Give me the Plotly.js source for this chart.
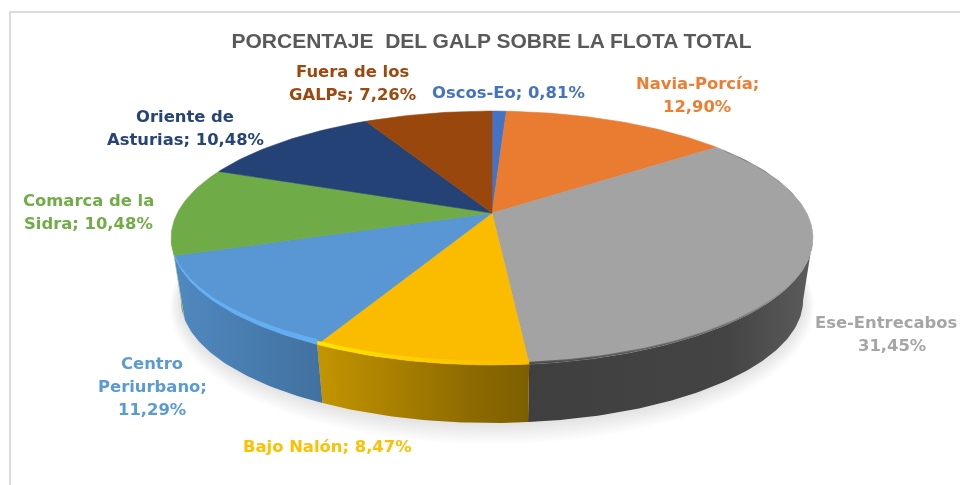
<!DOCTYPE html>
<html>
<head>
<meta charset="utf-8">
<script src="https://cdn.plot.ly/plotly-3.0.1.min.js"></script>
<style>html,body{margin:0;padding:0;background:#fff;overflow:hidden}#chart{width:960px;height:485px;filter:blur(0.35px)}</style>
</head>
<body>
<div id="chart"></div>
<script>
// Data as printed on the chart's labels (they add up to 93.14; slices are each value's share of that sum).
const categories = ["Oscos-Eo","Navia-Porcía","Ese-Entrecabos","Bajo Nalón","Centro Periurbano","Comarca de la Sidra","Oriente de Asturias","Fuera de los GALPs"];
const values = [0.81,12.90,31.45,8.47,11.29,10.48,10.48,7.26];
const sliceColors = ["#4472c4","#e97c30","#a3a3a3","#fbbc00","#5896d4","#6fab46","#244275","#9a470d"];
const labelColors = ["#4472c4","#ed7d31","#a5a5a5","#ffc000","#5b9bd5","#70ad47","#264478","#9e480e"];
const titleText = "PORCENTAJE\u00a0 DEL GALP SOBRE LA FLOTA TOTAL";
const labelLines = [
  ["Oscos-Eo; 0,81%"],
  ["Navia-Porcía;","12,90%"],
  ["Ese-Entrecabos","31,45%"],
  ["Bajo Nalón; 8,47%"],
  ["Centro","Periurbano;","11,29%"],
  ["Comarca de la","Sidra; 10,48%"],
  ["Oriente de","Asturias; 10,48%"],
  ["Fuera de los","GALPs; 7,26%"]
];

// Label placement (pixel axes): x of the line, y of the first line
const labelPos = [[508,92],[697,83],[892,322],[327,446],[152,363],[88,200],[185,116],[352,71]];
const linePitch = 23;

// Perspective projection of the pie's top and bottom discs onto the page
const topDisc = {x0:492,y0:213,a:122,b:314.6,k:0.197};
const botDisc = {x0:492,y0:276,a:118,b:305,k:0.197};
const rad = d => d*Math.PI/180;
function project(d,deg){
  const u=Math.sin(rad(deg)), v=Math.cos(rad(deg)), w=1+d.k*v;
  return [d.x0+d.b*u/w, d.y0-d.a*v/w];
}
function arc(d,from,to){
  const pts=[], n=Math.max(2,Math.ceil(Math.abs(to-from)));
  for(let i=0;i<=n;i++) pts.push(project(d,from+(to-from)*i/n));
  return pts;
}
const total = values.reduce((a,b)=>a+b,0);
const edges = [0];
values.forEach(v=>edges.push(edges[edges.length-1]+v/total*360));

const traces = [];
function poly(pts,fill,extra){
  traces.push(Object.assign({type:"scatter",mode:"lines",x:pts.map(p=>p[0]),y:pts.map(p=>p[1]),
    fill:"toself",fillcolor:fill,line:{width:0,color:fill},hoverinfo:"skip",showlegend:false},extra||{}));
}
function grad(stops,start,stop){
  return {fillgradient:{type:"horizontal",colorscale:stops,start:start,stop:stop}};
}

// soft shadow under the pie
for(let s=14;s>=1;s--){
  const d={x0:botDisc.x0,y0:botDisc.y0+s*0.3,a:botDisc.a+s,b:botDisc.b+s*0.8,k:botDisc.k};
  poly(arc(d,0,360),"rgba(0,0,0,0.009)");
}

// side wall, only the front part of the rim is visible
const wallFrom=101.4, wallTo=258.6;
const wallStyles = {
  2:[[0,"#3f3f3f"],[0.7,"#444444"],[1,"#5c5c5c"]],
  3:[[0,"#c49500"],[0.7,"#8f6c00"],[1,"#7d5f00"]],
  4:[[0,"#5089c0"],[1,"#41719f"]],
  5:[[0,"#5f9238"],[1,"#5f9238"]]
};
Object.keys(wallStyles).forEach(k=>{
  const i=+k, a=Math.max(edges[i],wallFrom), b=Math.min(edges[i+1],wallTo);
  const t=arc(topDisc,a,b), l=arc(botDisc,b,a), pts=t.concat(l);
  pts.push(t[0]);
  const xs=pts.map(p=>p[0]);
  poly(pts,sliceColors[i],grad(wallStyles[k],Math.min(...xs),Math.max(...xs)));
});

// top face: one wedge per value
values.forEach((v,i)=>{
  const pts=[[topDisc.x0,topDisc.y0]].concat(arc(topDisc,edges[i],edges[i+1]));
  pts.push([topDisc.x0,topDisc.y0]);
  poly(pts,sliceColors[i],{line:{width:0.6,color:sliceColors[i]},hoverinfo:"text",
    text:categories[i]+": "+v.toFixed(2).replace(".",",")+"%",hoveron:"fills",name:categories[i]});
});

// bevel along the rim: a strip that tapers towards the sides of the disc
function rim(i,from,to,squash,stops){
  const inner=Object.assign({},topDisc,{a:topDisc.a*squash});
  const a=arc(topDisc,from,to), b=arc(inner,to,from), pts=a.concat(b);
  pts.push(a[0]);
  const xs=pts.map(p=>p[0]);
  poly(pts,sliceColors[i],grad(stops,Math.min(...xs),Math.max(...xs)));
}
rim(2,55,edges[3],0.985,[[0,"#5a5a5a"],[0.6,"#808080"],[1,"#a0a0a0"]]);
rim(2,55,edges[3],0.993,[[0,"#444444"],[0.7,"#666666"],[1,"#a0a0a0"]]);
rim(3,edges[3],edges[4],0.972,[[0,"#ffe600"],[0.6,"#fdc800"],[1,"#fbbc00"]]);
rim(4,edges[4],edges[5],0.96,[[0,"#66b2f7"],[1,"#62acf0"]]);
rim(5,edges[5],edges[6]-8,0.98,[[0,"#80c64e"],[1,"#74b34a"]]);

// data labels, one annotation per printed line
const annotations=[];
labelLines.forEach((lines,i)=>{
  lines.forEach((txt,j)=>{
    const isEse=i===2&&j===0;
    annotations.push({xref:"x",yref:"y",x:isEse?959:labelPos[i][0],y:labelPos[i][1]+j*linePitch,
      text:"<b>"+txt+"</b>",showarrow:false,xanchor:isEse?"right":"center",yanchor:"middle",
      font:{family:"DejaVu Sans",size:16.4,color:labelColors[i]}});
  });
});

const layout={
  width:960,height:485,margin:{l:0,r:0,t:0,b:0},
  paper_bgcolor:"#fff",plot_bgcolor:"#fff",showlegend:false,
  title:{text:"<b>"+titleText+"</b>",x:491.5/960,xanchor:"center",y:1-41/485,yanchor:"middle",
    font:{family:"Liberation Sans",size:21,weight:700,color:"#595959"}},
  xaxis:{range:[0,960],visible:false,fixedrange:true},
  yaxis:{range:[485,0],visible:false,fixedrange:true},
  shapes:[
    {type:"line",xref:"x",yref:"y",x0:10,y0:12,x1:960,y1:12,line:{color:"#dcdcdc",width:2},layer:"below"},
    {type:"line",xref:"x",yref:"y",x0:10,y0:11,x1:10,y1:485,line:{color:"#dcdcdc",width:2},layer:"below"}
  ],
  annotations:annotations
};
Plotly.newPlot("chart",traces,layout,{displayModeBar:false});
</script>
</body>
</html>
